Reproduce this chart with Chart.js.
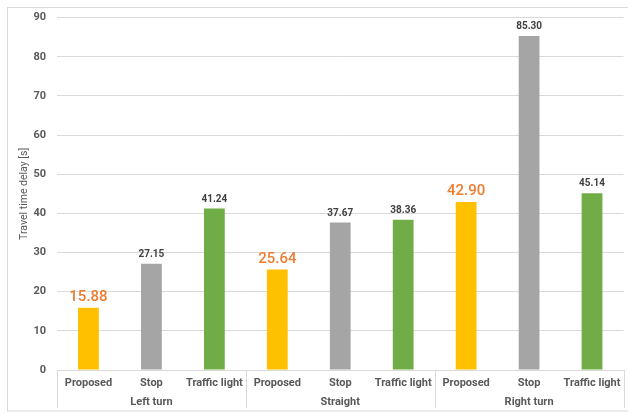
<!DOCTYPE html>
<html>
<head>
<meta charset="utf-8">
<script src="https://cdn.jsdelivr.net/npm/chart.js@4.4.1/dist/chart.umd.min.js"></script>
<style>
  html, body { margin: 0; padding: 0; background: #fff; }
  #wrap { width: 628px; height: 414px; position: relative; }
</style>
</head>
<body>
<div id="wrap"><canvas id="chart"></canvas></div>
<script>
// categories and values
const groups = ['Left turn', 'Straight', 'Right turn'];
const methods = ['Proposed', 'Stop', 'Traffic light'];
const delays = [15.88, 27.15, 41.24, 25.64, 37.67, 38.36, 42.90, 85.30, 45.14];
const yTicks = [0, 10, 20, 30, 40, 50, 60, 70, 80, 90];

const colors = { Proposed: '#FFC000', Stop: '#A5A5A5', 'Traffic light': '#70AD47' };

const labels = [];
groups.forEach(() => methods.forEach(m => labels.push(m)));

const FONT = 'Roboto, "Noto Sans", sans-serif';

// outer frame, group row of the axis and the value labels
const decor = {
  id: 'decor',
  beforeDraw(chart) {
    const ctx = chart.ctx;
    ctx.save();
    ctx.strokeStyle = '#d9d9d9';
    ctx.lineWidth = 1;
    ctx.strokeRect(7.5, 7.5, 640, 403.5);
    ctx.restore();
  },
  afterDraw(chart) {
    const ctx = chart.ctx;
    const x = chart.scales.x;
    const area = chart.chartArea;
    const step = x.getPixelForValue(1) - x.getPixelForValue(0);
    ctx.save();
    ctx.strokeStyle = '#d9d9d9';
    ctx.lineWidth = 1;
    for (let g = 0; g <= groups.length; g++) {
      const px = Math.round(x.getPixelForValue(g * 3) - step / 2) + 0.5;
      ctx.beginPath();
      ctx.moveTo(px, area.bottom);
      ctx.lineTo(px, 408);
      ctx.stroke();
    }
    ctx.fillStyle = '#595959';
    ctx.font = 'bold 11px ' + FONT;
    ctx.textAlign = 'center';
    ctx.textBaseline = 'middle';
    groups.forEach((g, i) => {
      ctx.fillText(g, x.getPixelForValue(i * 3 + 1), 402);
    });

    const meta = chart.getDatasetMeta(0);
    meta.data.forEach((bar, i) => {
      const m = labels[i];
      ctx.textBaseline = 'alphabetic';
      if (m === 'Proposed') {
        ctx.fillStyle = '#ED7D31';
        ctx.font = '500 15px ' + FONT;
      } else {
        ctx.fillStyle = '#404040';
        ctx.font = 'bold 10px ' + FONT;
      }
      ctx.fillText(delays[i].toFixed(2), bar.x, bar.y - 7);
    });
    ctx.restore();
  }
};

new Chart(document.getElementById('chart'), {
  type: 'bar',
  data: {
    labels: labels,
    datasets: [{
      label: 'Travel time delay',
      data: delays,
      backgroundColor: labels.map(m => colors[m]),
      barPercentage: 0.33,
      categoryPercentage: 1
    }]
  },
  options: {
    responsive: true,
    maintainAspectRatio: false,
    animation: false,
    layout: { padding: { left: 7, right: 4.5, top: 10, bottom: 4 } },
    plugins: { legend: { display: false }, tooltip: { enabled: false } },
    scales: {
      x: {
        grid: { display: false, drawTicks: false },
        border: { display: true, color: '#d9d9d9' },
        ticks: {
          color: '#595959',
          font: { family: FONT, size: 11, weight: 'bold' },
          padding: 7,
          autoSkip: false,
          maxRotation: 0
        },
        afterFit(scale) { scale.height = 40; }
      },
      y: {
        min: 0,
        max: 90,
        afterBuildTicks(scale) { scale.ticks = yTicks.map(v => ({ value: v })); },
        grid: { color: '#d9d9d9', drawTicks: false },
        border: { display: false },
        ticks: {
          color: '#595959',
          font: { family: FONT, size: 11, weight: 'bold' },
          padding: 11
        },
        title: {
          display: true,
          text: 'Travel time delay [s]',
          color: '#595959',
          font: { family: FONT, size: 10.5 },
          padding: { top: 11, bottom: 0 }
        },
        afterFit(scale) { scale.width = 50; }
      }
    }
  },
  plugins: [decor]
});
</script>
</body>
</html>
